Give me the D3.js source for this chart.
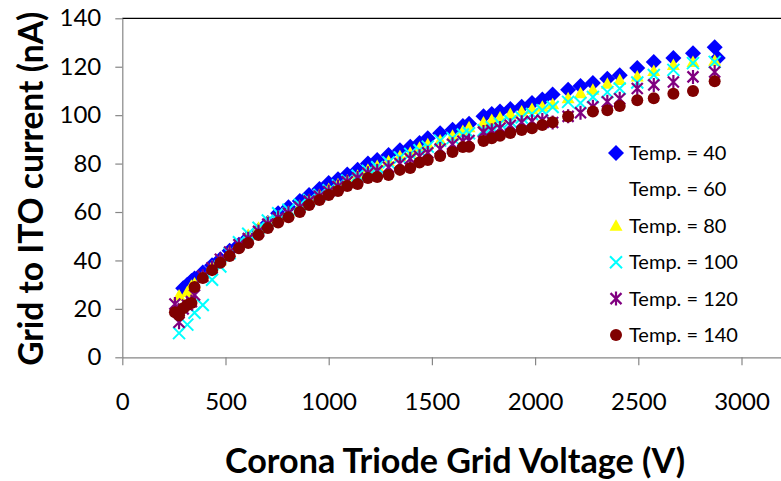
<!DOCTYPE html>
<html>
<head>
<meta charset="utf-8">
<script src="https://cdn.jsdelivr.net/npm/d3@7"></script>
<style>
  html, body { margin: 0; padding: 0; background: #fff; }
  svg { display: block; }
  text { font-family: Lato, "Open Sans", sans-serif; fill: #000; }
</style>
</head>
<body>
<svg id="chart" width="781" height="481"></svg>
<script>
// Grid voltage (V) shared by all runs; null = no reading at that voltage
const voltage = [255, 275, 295, 315, 335, 350, 390, 435, 475, 520, 565, 610, 660, 705, 755, 805, 860, 905, 955, 1000,
  1045, 1090, 1140, 1190, 1235, 1290, 1345, 1395, 1440, 1480, 1540, 1600, 1650, 1680, 1750, 1790, 1830, 1880, 1935, 1985,
  2035, 2085, 2160, 2220, 2280, 2350, 2410, 2495, 2575, 2670, 2765, 2870, 2885];

// Grid-to-ITO current (nA) for each temperature
const temp40 = [null, null, 28.5, 30, 31.5, 32.5, 35, 38, 40.5, 44, 46.5, 49.5, 52.5, 55.5, 59.5, 62, 64.5, 67, 69.5, 72,
  73.5, 75.5, 77.5, 80, 81.5, 83.5, 85.5, 87, 88.5, 90.5, 92.5, 94, 95.5, 96.5, 99.5, 100.5, 101.5, 102.5, 103.5, 105,
  106.5, 108.5, 110.5, 112, 113.3, 115, 116.5, 119.5, 122, 123.6, 125.6, 128, 123.6];
const temp60 = [];
const temp80 = [null, 25.5, null, 27, 29.5, 30.5, 33.5, 37.5, 40, 43.5, 46.5, 50.5, 53.5, 56, 58, 60, 62.5, 65, 67, 69.5,
  71.5, 73, 75, 77.5, 79, 81, 83, 84.5, 86.5, 88, 89.5, 91.5, 93.5, 95, 97, 98, 99, 100.5, 101.5, 102.5,
  103.5, 104.5, 107, 109, 110.5, 113, 114.5, 116, 118.2, 120.7, 122, 122.5, null];
const temp100 = [null, 10, null, 13.5, null, 18.4, 21.6, 32, 37.5, 43, 47.5, 51, 53.5, 56.5, 59.5, 61, 63, 65, 67, 69,
  71, 73, 75, 77, 78.5, 80.5, 82.5, 84, 85.5, 87, 89.5, 90.5, 92, 92.5, 93.8, 95, 96.5, 97.5, 99, 100.5,
  102, 103.4, 105.5, 105, 107.5, 109.5, 111, 113.5, 116.6, 118.7, 121.5, 122, null];
const temp120 = [22, 14.5, 20, 21.6, 23, 25.7, 33.5, 37, 40.5, 43.5, 46.5, 49, 52, 55, 57.5, 59.5, 62, 64.5, 66.5, 68.5,
  70.5, 72.5, 74, 76, 77, 78.5, 80, 82, 83, 84.5, 86, 88, 89.2, 89.5, 93, 93.8, 94.7, 95.8, 97.1, 97.5,
  98, 97, 99.5, 101, 103.5, 105.5, 106.8, 111, 112.5, 113.7, 115.8, 117.8, null];
const temp140 = [18.6, 17.4, 20.3, 21.6, 22.4, 29, 32.7, 36, 39, 41.8, 45, 47.2, 50.5, 53.4, 55.7, 57.8, 60, 62.9, 65, 67,
  68.7, 70.7, 71.6, 74, 74.5, 75.3, 77.4, 78.2, 80.4, 81.5, 83.1, 84.8, 86.8, 87, 89.3, 90.5, 91.5, 92.6, 93.9, 94.6,
  95.9, 97.1, 99.4, null, 101.5, 102, 103.8, 106.2, 107, 108.8, 110, 114, null];

const seriesNames = ["Temp. = 40", "Temp. = 60", "Temp. = 80", "Temp. = 100", "Temp. = 120", "Temp. = 140"];
const seriesValues = [temp40, temp60, temp80, temp100, temp120, temp140];
const xTicks = [0, 500, 1000, 1500, 2000, 2500, 3000];
const yTicks = [0, 20, 40, 60, 80, 100, 120, 140];

const markerStyle = [
  { shape: "diamond", color: "#0000FF" },
  { shape: "none", color: "none" },
  { shape: "triangle", color: "#FFFF00" },
  { shape: "cross", color: "#00FFFF" },
  { shape: "star", color: "#800080" },
  { shape: "circle", color: "#800000" }
];

const svg = d3.select("#chart");
const x = d3.scaleLinear().domain([0, 3500]).range([122.3, 844.7]);
const y = d3.scaleLinear().domain([0, 140]).range([357.3, 18.3]);
const axisGrey = "#868686";

// plot area frame (top edge runs off the right side)
svg.append("line").attr("x1", x(0)).attr("x2", 781).attr("y1", y(140)).attr("y2", y(140))
  .attr("stroke", "#000").attr("stroke-width", 1.2);

// y axis
const gy = svg.append("g").attr("transform", `translate(${x(0)},0)`)
  .call(d3.axisLeft(y).tickValues(yTicks).tickSize(7).tickSizeOuter(0).tickPadding(14));
gy.select(".domain").attr("stroke", axisGrey).attr("stroke-width", 1.2);
gy.selectAll(".tick line").attr("stroke", axisGrey).attr("stroke-width", 1.2);
gy.selectAll(".tick text").style("font-size", "24px").style("font-family", "Lato, sans-serif").attr("fill", "#000");

// x axis
const gx = svg.append("g").attr("transform", `translate(0,${y(0)})`)
  .call(d3.axisBottom(x).tickValues(xTicks).tickFormat(d3.format("d")).tickSize(8).tickSizeOuter(0).tickPadding(0));
gx.select(".domain").attr("stroke", axisGrey).attr("stroke-width", 1.2);
gx.selectAll(".tick line").attr("stroke", axisGrey).attr("stroke-width", 1.2);
gx.selectAll(".tick text").attr("y", 53).attr("dy", null)
  .style("font-size", "24px").style("font-family", "Lato, sans-serif").attr("fill", "#000");

// axis titles
svg.append("text")
  .attr("transform", `translate(43,${(y(0) + y(140)) / 2 + 1}) rotate(-90)`)
  .attr("text-anchor", "middle")
  .attr("textLength", 354).attr("lengthAdjust", "spacingAndGlyphs")
  .style("font-size", "34px").style("font-weight", "bold")
  .text("Grid to ITO current (nA)");
svg.append("text")
  .attr("x", 455).attr("y", 473)
  .attr("text-anchor", "middle")
  .attr("textLength", 460).attr("lengthAdjust", "spacingAndGlyphs")
  .style("font-size", "34px").style("font-weight", "bold")
  .text("Corona Triode Grid Voltage (V)");

// marker drawing
function drawMarker(g, shape, color) {
  if (shape === "diamond") {
    g.append("path").attr("d", "M0,-8L8,0L0,8L-8,0Z").attr("fill", color);
  } else if (shape === "triangle") {
    g.append("path").attr("d", "M0,-6.5L6.5,5L-6.5,5Z").attr("fill", color);
  } else if (shape === "cross") {
    g.append("path").attr("d", "M-6,-6L6,6M-6,6L6,-6").attr("stroke", color).attr("stroke-width", 2).attr("fill", "none");
  } else if (shape === "star") {
    g.append("path").attr("d", "M-5.5,-5.5L5.5,5.5M-5.5,5.5L5.5,-5.5M0,-7L0,7").attr("stroke", color).attr("stroke-width", 2.2).attr("fill", "none");
  } else if (shape === "circle") {
    g.append("circle").attr("r", 6).attr("fill", color);
  }
}

// data points, drawn in series order so later temperatures sit on top
seriesValues.forEach((vals, si) => {
  const st = markerStyle[si];
  if (st.shape === "none") return;
  const pts = vals.map((v, i) => ({ v: voltage[i], c: v })).filter(d => d.c !== null && d.c !== undefined);
  const layer = svg.append("g").attr("class", "series");
  layer.selectAll("g.pt").data(pts).join("g")
    .attr("class", "pt")
    .attr("transform", d => `translate(${x(d.v)},${y(d.c)})`)
    .each(function () { drawMarker(d3.select(this), st.shape, st.color); });
});

// legend
const legend = svg.append("g").attr("transform", "translate(616,153)");
seriesNames.forEach((name, i) => {
  const row = legend.append("g").attr("transform", `translate(0,${i * 36.4})`);
  drawMarker(row, markerStyle[i].shape, markerStyle[i].color);
  row.append("text").attr("x", 13).attr("y", 7).style("font-size", "20px").text(name);
});
</script>
</body>
</html>
